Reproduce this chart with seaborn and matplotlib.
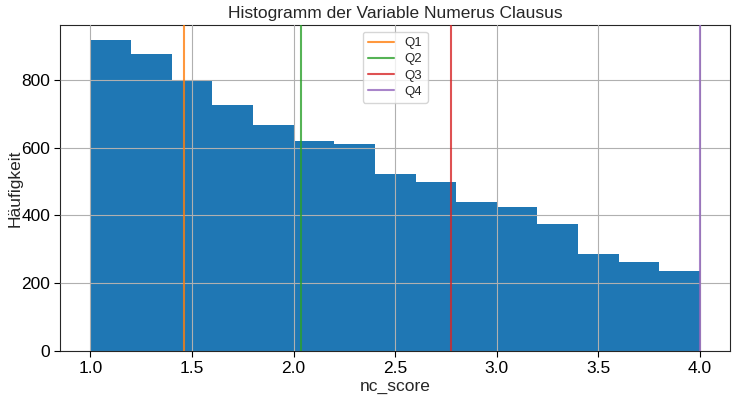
import matplotlib.pyplot as plt
import numpy as np
import seaborn as sns

# histogram of nc_score (bin width 0.2)
bin_edges = [1.0, 1.2, 1.4, 1.6, 1.8, 2.0, 2.2, 2.4, 2.6, 2.8, 3.0, 3.2, 3.4, 3.6, 3.8, 4.0]
counts = [916, 877, 795, 727, 668, 618, 612, 521, 500, 439, 424, 374, 286, 262, 236]

quartile_names = ['Q1', 'Q2', 'Q3', 'Q4']
quartile_values = [1.46, 2.034, 2.776, 4.0]
quartile_colors = ['tab:orange', 'tab:green', 'tab:red', 'tab:purple']

sns.set_style("ticks")
plt.rcParams['font.family'] = ['Liberation Sans', 'DejaVu Sans']

centers = [(a + b) / 2 for a, b in zip(bin_edges[:-1], bin_edges[1:])]

fig = plt.figure(figsize=(7.36, 3.99), dpi=100)
ax = fig.add_axes([0.0815, 0.12, 0.911, 0.817])

sns.histplot(x=centers, weights=counts, bins=bin_edges, ax=ax,
             color='#1f77b4', alpha=1, linewidth=0, element='bars')

for name, val, col in zip(quartile_names, quartile_values, quartile_colors):
    ax.axvline(val, color=col, alpha=0.8, linewidth=1.5, label=name, zorder=3)

ax.set_axisbelow(False)
ax.grid(True, color='#b0b0b0', linewidth=0.8)
ax.set_xlim(0.85, 4.15)
ax.set_ylim(0, 961)
ax.set_xticks(np.arange(1.0, 4.01, 0.5))
ax.set_yticks(range(0, 801, 200))
ax.tick_params(labelsize=12.5, length=4, width=0.8, pad=3, colors='black')
for s in ax.spines.values():
    s.set_linewidth(0.8)
    s.set_color('#262626')

ax.set_title('Histogramm der Variable Numerus Clausus', fontsize=12.5, pad=5)
ax.set_xlabel('nc_score', fontsize=12.5, labelpad=2)
ax.set_ylabel('Häufigkeit', fontsize=12.5)
ax.yaxis.set_label_coords(-0.056, 0.5)
ax.legend(loc='upper center', fontsize=9.5, framealpha=0.8, borderpad=0.4,
          handlelength=2.0, labelspacing=0.3)

fig.savefig('out.png', dpi=100)
